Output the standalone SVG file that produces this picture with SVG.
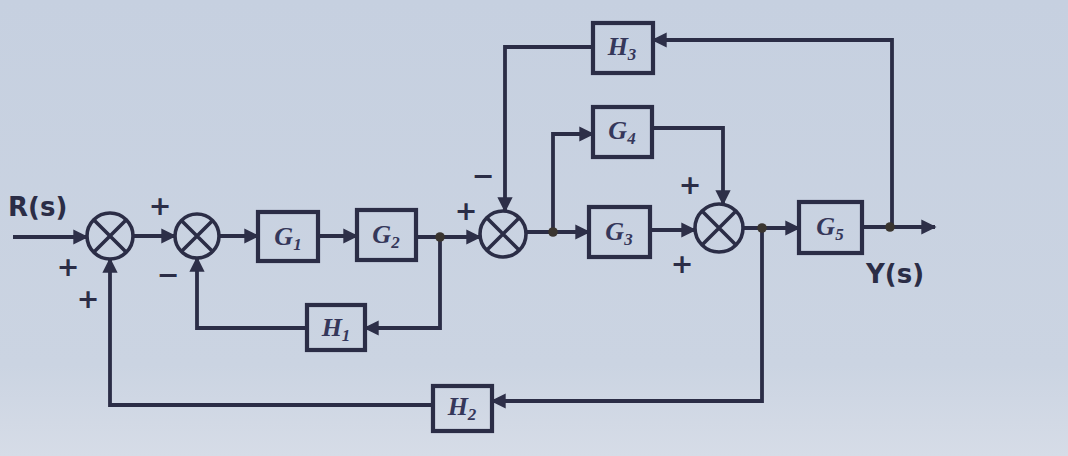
<svg xmlns="http://www.w3.org/2000/svg" width="1068" height="456" viewBox="0 0 1068 456">
<defs>
<marker id="ah" viewBox="0 0 10 10" refX="9" refY="5" markerWidth="4" markerHeight="4" orient="auto" markerUnits="strokeWidth">
<path d="M0 0 L10 5 L0 10 Z" fill="#2d2f48"/>
</marker>
<linearGradient id="bg" x1="0" y1="0" x2="0" y2="1">
<stop offset="0" stop-color="#c6d0e0"/>
<stop offset="0.8" stop-color="#cbd4e2"/>
<stop offset="1" stop-color="#d6dce7"/>
</linearGradient>
</defs>
<style>
.ln{fill:none;stroke:#2b2d46;stroke-width:3.8;stroke-linejoin:miter}
.box{fill:none;stroke:#2b2d46;stroke-width:4.2}
.sum{fill:none;stroke:#2b2d46;stroke-width:3.6}
.lbl{font-family:"Liberation Serif",serif;font-style:italic;font-weight:bold;font-size:26px;fill:#35375a;text-anchor:middle}
.sub{font-size:17px}
.sig{font-family:"DejaVu Sans",sans-serif;font-weight:bold;font-size:26px;fill:#2b2d46}
.sg{font-family:"DejaVu Sans",sans-serif;font-weight:bold;font-size:27px;fill:#2b2d46;text-anchor:middle;dominant-baseline:central}
.dot{fill:#3a3530}
</style>
<rect width="1068" height="456" fill="url(#bg)"/>

<g id="connectors">
<path class="ln" d="M13 237 H87" marker-end="url(#ah)"/>
<path class="ln" d="M133 236 H175" marker-end="url(#ah)"/>
<path class="ln" d="M219 236 H258" marker-end="url(#ah)"/>
<path class="ln" d="M318 236 H357" marker-end="url(#ah)"/>
<path class="ln" d="M416 237 H480" marker-end="url(#ah)"/>
<path class="ln" d="M526 232 H589" marker-end="url(#ah)"/>
<path class="ln" d="M650 230 H695" marker-end="url(#ah)"/>
<path class="ln" d="M743 228 H799" marker-end="url(#ah)"/>
<path class="ln" d="M862 227 H935" marker-end="url(#ah)"/>
<path class="ln" d="M892 227 V40 H653" marker-end="url(#ah)"/>
<path class="ln" d="M593 47 H505 V211" marker-end="url(#ah)"/>
<path class="ln" d="M553 232 V134 H593" marker-end="url(#ah)"/>
<path class="ln" d="M652 128 H723 V204" marker-end="url(#ah)"/>
<path class="ln" d="M440 237 V328 H365" marker-end="url(#ah)"/>
<path class="ln" d="M307 328 H197 V258" marker-end="url(#ah)"/>
<path class="ln" d="M762 228 V401 H492" marker-end="url(#ah)"/>
<path class="ln" d="M433 405 H110 V259" marker-end="url(#ah)"/>
<circle class="dot" cx="440" cy="237" r="4.8"/>
<circle class="dot" cx="553" cy="232" r="4.8"/>
<circle class="dot" cx="762" cy="228" r="4.8"/>
<circle class="dot" cx="890" cy="227" r="4.8"/>
</g>

<g id="S1"><circle class="sum" cx="110" cy="236" r="23"/><path class="sum" d="M93.7 219.7 L126.3 252.3 M126.3 219.7 L93.7 252.3"/></g>
<g id="S2"><circle class="sum" cx="197" cy="236" r="22"/><path class="sum" d="M181.4 220.4 L212.6 251.6 M212.6 220.4 L181.4 251.6"/></g>
<g id="S3"><circle class="sum" cx="503" cy="234" r="23"/><path class="sum" d="M486.7 217.7 L519.3 250.3 M519.3 217.7 L486.7 250.3"/></g>
<g id="S4"><circle class="sum" cx="719" cy="228" r="24"/><path class="sum" d="M702 211 L736 245 M736 211 L702 245"/></g>

<g id="G1"><rect class="box" x="258" y="212" width="60" height="49"/><text class="lbl" x="288" y="245">G<tspan class="sub" dy="5">1</tspan></text></g>
<g id="G2"><rect class="box" x="357" y="210" width="59" height="50"/><text class="lbl" x="386" y="243">G<tspan class="sub" dy="5">2</tspan></text></g>
<g id="G3"><rect class="box" x="589" y="207" width="61" height="50"/><text class="lbl" x="619" y="240">G<tspan class="sub" dy="5">3</tspan></text></g>
<g id="G4"><rect class="box" x="593" y="107" width="59" height="50"/><text class="lbl" x="622" y="139">G<tspan class="sub" dy="5">4</tspan></text></g>
<g id="G5"><rect class="box" x="799" y="202" width="63" height="51"/><text class="lbl" x="830" y="235">G<tspan class="sub" dy="5">5</tspan></text></g>
<g id="H1"><rect class="box" x="307" y="305" width="58" height="45"/><text class="lbl" x="336" y="336">H<tspan class="sub" dy="5">1</tspan></text></g>
<g id="H2"><rect class="box" x="433" y="386" width="59" height="45"/><text class="lbl" x="462" y="415">H<tspan class="sub" dy="5">2</tspan></text></g>
<g id="H3"><rect class="box" x="593" y="23" width="60" height="50"/><text class="lbl" x="622" y="55">H<tspan class="sub" dy="5">3</tspan></text></g>

<g id="labels">
<text class="sig" x="8" y="216">R(s)</text>
<text class="sig" x="866" y="283">Y(s)</text>
<text class="sg" x="160" y="205">+</text>
<text class="sg" x="68" y="266">+</text>
<text class="sg" x="88" y="298">+</text>
<text class="sg" x="168" y="274">−</text>
<text class="sg" x="466" y="210">+</text>
<text class="sg" x="483" y="175">−</text>
<text class="sg" x="690" y="184">+</text>
<text class="sg" x="682" y="263">+</text>
</g>
</svg>
